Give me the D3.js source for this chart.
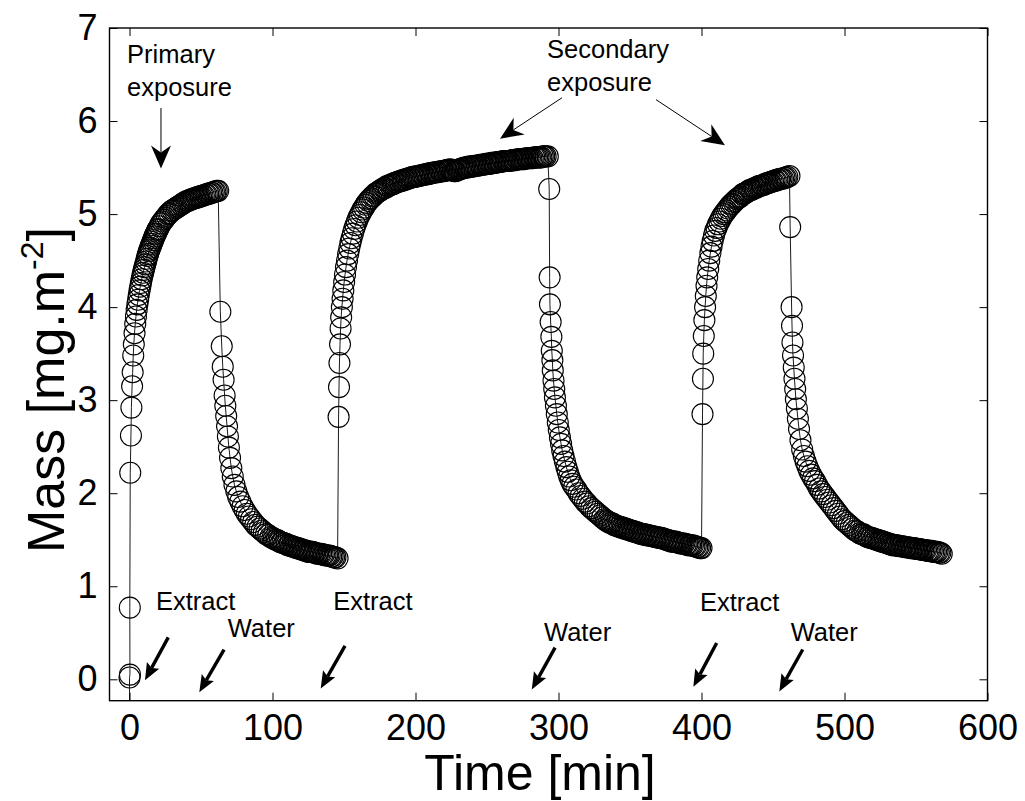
<!DOCTYPE html>
<html>
<head>
<meta charset="utf-8">
<script src="https://cdn.jsdelivr.net/npm/d3@7"></script>
<style>
  body { margin: 0; background: #fff; }
  text { font-family: "Liberation Sans", Arial, Helvetica, sans-serif; fill: #000; }
</style>
</head>
<body>
<svg id="chart" width="1025" height="801"></svg>
<script>
// [time (min), mass (mg.m^-2)] for each exposure / rinse phase
const primaryExtract = [[0,-0.5],[0,0.02],[0.3,0.05],[0.2,0.77],[0.5,2.22],[1.0,2.62],[1.3,2.92],[1.8,3.15],[2.2,3.30],[2.6,3.48],[3.0,3.60],[3.5,3.72],[4.0,3.82],[4.5,3.90],[5,3.97],[5.5,4.03],[6,4.08],[6.5,4.13],[7,4.18],[7.5,4.22],[8,4.26],[8.5,4.30],[9,4.34],[9.5,4.37],[10,4.40],[10.5,4.43],[11,4.46],[11.5,4.49],[12,4.52],[12.5,4.55],[13,4.57],[13.5,4.60],[14,4.62],[14.5,4.64],[15,4.66],[15.5,4.68],[16,4.70],[16.5,4.72],[17,4.74],[17.5,4.76],[18,4.78],[18.5,4.79],[19,4.81],[19.5,4.83],[20,4.84],[21,4.87],[22,4.90],[23,4.92],[24,4.94],[25,4.96],[26,4.98],[27,5.00],[28,5.01],[29,5.03],[30,5.04],[31,5.05],[32,5.06],[33,5.07],[34,5.08],[35,5.09],[36,5.10],[37,5.11],[38,5.12],[39,5.13],[40,5.14],[41,5.14],[42,5.15],[43,5.16],[44,5.16],[45,5.17],[46,5.17],[47,5.18],[48,5.18],[49,5.19],[50,5.19],[51,5.20],[52,5.20],[53,5.21],[54,5.21],[55,5.22],[56,5.22],[57,5.23],[58,5.23],[59,5.24],[60,5.24],[61,5.25],[62,5.25]];

const waterRinse1 = [[63.5,3.95],[64.5,3.58],[65.2,3.36],[65.8,3.22],[66.5,3.05],[67,2.94],[67.6,2.83],[68.2,2.72],[68.8,2.61],[69.5,2.49],[70.3,2.38],[71.2,2.27],[72.2,2.18],[73.4,2.09],[74.7,2.02],[76,1.96],[77.5,1.91],[79,1.86],[80.5,1.82],[82,1.78],[83.5,1.75],[85,1.72],[86.5,1.69],[88,1.66],[89.5,1.64],[91,1.62],[92.5,1.60],[94,1.58],[95.5,1.56],[97,1.55],[98.5,1.53],[100,1.52],[101,1.51],[102,1.50],[103,1.50],[104,1.49],[105,1.48],[106,1.47],[107,1.47],[108,1.46],[109,1.46],[110,1.45],[111,1.44],[112,1.44],[113,1.43],[114,1.43],[115,1.42],[116,1.42],[117,1.41],[118,1.41],[119,1.40],[120,1.40],[121,1.39],[122,1.39],[123,1.38],[124,1.38],[125,1.37],[126,1.37],[127,1.37],[128,1.37],[129,1.36],[130,1.36],[131,1.35],[132,1.35],[133,1.35],[134,1.35],[135,1.34],[136,1.34],[137,1.33],[138,1.33],[139,1.33],[140,1.33],[141,1.32],[142,1.32],[143,1.31],[144,1.31],[145.5,1.30]];

const secondaryExtract1 = [[146.2,2.82],[146.5,3.14],[146.8,3.40],[147.2,3.60],[147.6,3.77],[148,3.89],[148.5,4.00],[149,4.09],[149.5,4.18],[150.1,4.27],[150.7,4.35],[151.4,4.43],[152.1,4.50],[152.9,4.57],[153.7,4.63],[154.5,4.69],[155.3,4.74],[156.2,4.79],[157.1,4.84],[158,4.88],[159,4.92],[160,4.96],[161,4.99],[162,5.02],[163,5.05],[164,5.07],[165,5.10],[166,5.12],[167,5.14],[168,5.16],[169,5.17],[170,5.19],[171,5.20],[172,5.22],[173,5.23],[174,5.24],[175,5.25],[176,5.26],[177,5.27],[178,5.28],[179,5.28],[180,5.30],[181,5.30],[182,5.31],[183,5.32],[184,5.32],[185,5.33],[186,5.34],[187,5.34],[188,5.35],[189,5.35],[190,5.36],[191,5.36],[192,5.37],[193,5.37],[194,5.38],[195,5.38],[196,5.39],[197,5.39],[198,5.40],[199,5.40],[200,5.40],[201,5.41],[202,5.41],[203,5.41],[204,5.42],[205,5.42],[206,5.42],[207,5.43],[208,5.43],[209,5.43],[210,5.44],[211,5.44],[212,5.44],[213,5.45],[214,5.45],[215,5.45],[216,5.45],[217,5.46],[218,5.46],[219,5.46],[220,5.46],[221,5.47],[222,5.47],[223,5.48],[224,5.48],[225,5.48],[226,5.47],[227,5.46],[228,5.46],[229,5.47],[230,5.48],[231,5.48],[232,5.49],[233,5.49],[234,5.50],[235,5.50],[236,5.50],[237,5.51],[238,5.51],[239,5.51],[240,5.51],[241,5.52],[242,5.52],[243,5.52],[244,5.52],[245,5.53],[246,5.53],[247,5.53],[248,5.53],[249,5.54],[250,5.54],[251,5.54],[252,5.54],[253,5.55],[254,5.55],[255,5.55],[256,5.55],[257,5.56],[258,5.56],[259,5.56],[260,5.56],[261,5.57],[262,5.57],[263,5.57],[264,5.57],[265,5.57],[266,5.57],[267,5.58],[268,5.58],[269,5.58],[270,5.58],[271,5.59],[272,5.59],[273,5.59],[274,5.59],[275,5.59],[276,5.59],[277,5.60],[278,5.60],[279,5.60],[280,5.60],[281,5.60],[282,5.60],[283,5.61],[284,5.61],[285,5.61],[286,5.61],[287,5.61],[288,5.61],[289,5.62],[290,5.62],[291,5.62],[292.5,5.62]];

const waterRinse2 = [[293.5,5.27],[293.8,4.32],[294,4.03],[294.5,3.84],[295,3.68],[295.3,3.53],[295.7,3.43],[296,3.32],[296.5,3.21],[297,3.12],[297.5,3.03],[298.2,2.94],[298.8,2.85],[299.5,2.76],[300.2,2.68],[301,2.60],[301.8,2.53],[302.6,2.46],[303.5,2.40],[304.5,2.34],[305.5,2.28],[306.5,2.23],[307.5,2.18],[308.5,2.14],[309.7,2.10],[311,2.07],[312.5,2.04],[314,2.00],[315.5,1.97],[317,1.94],[318.5,1.91],[320,1.89],[321.5,1.86],[323,1.84],[324.5,1.82],[326,1.80],[327.5,1.78],[329,1.76],[330.5,1.74],[332,1.72],[333,1.71],[334,1.70],[335,1.69],[336,1.68],[337,1.68],[338,1.67],[339,1.66],[340,1.65],[341,1.65],[342,1.64],[343,1.64],[344,1.63],[345,1.63],[346,1.62],[347,1.62],[348,1.61],[349,1.61],[350,1.60],[351,1.60],[352,1.59],[353,1.59],[354,1.58],[355,1.58],[356,1.57],[357,1.57],[358,1.56],[359,1.56],[360,1.56],[361,1.55],[362,1.55],[363,1.55],[364,1.54],[365,1.54],[366,1.54],[367,1.53],[368,1.53],[369,1.53],[370,1.52],[371,1.52],[372,1.52],[373,1.51],[374,1.51],[375,1.50],[376,1.50],[377,1.49],[378,1.49],[379,1.48],[380,1.48],[381,1.48],[382,1.48],[383,1.47],[384,1.47],[385,1.46],[386,1.46],[387,1.46],[388,1.46],[389,1.45],[390,1.45],[391,1.44],[392,1.44],[393,1.44],[394,1.44],[395,1.43],[396,1.43],[397,1.42],[398,1.42],[399,1.41],[400,1.41]];

const secondaryExtract2 = [[400.7,2.85],[401,3.23],[401.2,3.50],[401.6,3.69],[402,3.86],[402.5,4.00],[403,4.12],[403.5,4.23],[404,4.32],[404.7,4.41],[405.4,4.50],[406.2,4.58],[407,4.65],[407.8,4.71],[408.7,4.77],[409.6,4.82],[410.5,4.85],[411.5,4.89],[412.5,4.92],[413.5,4.95],[414.5,4.98],[415.5,5.00],[416.5,5.02],[417.5,5.04],[418.5,5.06],[419.5,5.08],[420.5,5.10],[421.5,5.11],[422.5,5.13],[423.5,5.14],[424.5,5.16],[425.5,5.17],[426.5,5.18],[427.5,5.19],[428.5,5.21],[429.5,5.22],[430,5.22],[431,5.23],[432,5.24],[433,5.25],[434,5.26],[435,5.26],[436,5.27],[437,5.28],[438,5.28],[439,5.29],[440,5.30],[441,5.30],[442,5.31],[443,5.31],[444,5.32],[445,5.33],[446,5.33],[447,5.34],[448,5.34],[449,5.35],[450,5.35],[451,5.36],[452,5.36],[453,5.37],[454,5.37],[455,5.38],[456,5.38],[457,5.38],[458,5.39],[459,5.39],[460,5.40],[461.5,5.41]];

const waterRinse3 = [[462,4.86],[463,4.00],[463.3,3.80],[463.6,3.62],[464,3.48],[464.5,3.35],[465,3.23],[465.5,3.12],[466,3.01],[466.7,2.91],[467.4,2.80],[468.2,2.69],[469.2,2.57],[470.4,2.47],[471.6,2.40],[472.8,2.34],[474,2.29],[475.3,2.24],[476.6,2.20],[478,2.16],[479.4,2.13],[480.8,2.09],[482.2,2.05],[483.6,2.02],[485,1.99],[486.5,1.96],[488,1.93],[489.5,1.90],[491,1.87],[492.5,1.84],[494,1.81],[495.5,1.78],[497,1.75],[498.5,1.72],[500,1.70],[501.5,1.68],[503,1.66],[504.5,1.64],[506,1.62],[507.5,1.60],[509,1.59],[510.5,1.57],[512,1.56],[513,1.56],[514,1.55],[515,1.54],[516,1.53],[517,1.53],[518,1.52],[519,1.52],[520,1.51],[521,1.51],[522,1.50],[523,1.50],[524,1.49],[525,1.49],[526,1.48],[527,1.48],[528,1.47],[529,1.47],[530,1.46],[531,1.46],[532,1.45],[533,1.45],[534,1.44],[535,1.44],[536,1.44],[537,1.44],[538,1.43],[539,1.43],[540,1.43],[541,1.43],[542,1.42],[543,1.42],[544,1.42],[545,1.42],[546,1.41],[547,1.41],[548,1.41],[549,1.41],[550,1.40],[551,1.40],[552,1.40],[553,1.40],[554,1.39],[555,1.39],[556,1.39],[557,1.39],[558,1.38],[559,1.38],[560,1.38],[561,1.38],[562,1.37],[563,1.37],[564,1.37],[565,1.37],[566,1.36],[567,1.36],[568,1.35]];

const xTicks = [0, 100, 200, 300, 400, 500, 600];
const yTicks = [0, 1, 2, 3, 4, 5, 6, 7];

// labels + arrows, in data coordinates (time, mass)
const labels = [
  { text: "Primary", t: -1.7, m: 6.62 },
  { text: "exposure", t: -1.7, m: 6.27 },
  { text: "Secondary", t: 292, m: 6.68 },
  { text: "exposure", t: 292, m: 6.32 },
  { text: "Extract", t: 18.5, m: 0.74 },
  { text: "Water", t: 68.7, m: 0.46 },
  { text: "Extract", t: 142.5, m: 0.74 },
  { text: "Water", t: 289.9, m: 0.41 },
  { text: "Extract", t: 398.9, m: 0.73 },
  { text: "Water", t: 462.4, m: 0.41 }
];
const thinArrows = [
  { from: [22.0, 6.14], to: [22.0, 5.49] },
  { from: [302.4, 6.25], to: [259.1, 5.81] },
  { from: [368.2, 6.23], to: [416.4, 5.74] }
];
const boldArrows = [
  { from: [27.1, 0.45], to: [10.8, -0.01] },
  { from: [66.1, 0.32], to: [48.8, -0.14] },
  { from: [150.7, 0.36], to: [133.7, -0.10] },
  { from: [297.6, 0.34], to: [281.3, -0.11] },
  { from: [410.6, 0.39], to: [394.3, -0.08] },
  { from: [470.8, 0.32], to: [454.4, -0.13] }
];

const svg = d3.select("#chart");
const plotLeft = 109.5, plotRight = 987.5, plotTop = 28, plotBottom = 700.7;

const x = d3.scaleLinear().domain([-14, 600]).range([plotLeft, plotRight]);
const y = d3.scaleLinear().domain([-0.23, 7]).range([plotBottom, plotTop]);

svg.append("defs").append("clipPath").attr("id", "plotArea")
  .append("rect")
  .attr("x", plotLeft).attr("y", plotTop)
  .attr("width", plotRight - plotLeft).attr("height", plotBottom - plotTop);

// axes, ticks pointing inwards on all four sides
const gx = svg.append("g").attr("transform", `translate(0,${plotBottom})`)
  .call(d3.axisBottom(x).tickValues(xTicks).tickSizeInner(-8).tickSizeOuter(0).tickPadding(14));
const gy = svg.append("g").attr("transform", `translate(${plotLeft},0)`)
  .call(d3.axisLeft(y).tickValues(yTicks).tickSizeInner(-8).tickSizeOuter(0).tickPadding(12));
const gt = svg.append("g").attr("transform", `translate(0,${plotTop})`)
  .call(d3.axisTop(x).tickValues(xTicks).tickSizeInner(-8).tickSizeOuter(0).tickFormat(""));
const gr = svg.append("g").attr("transform", `translate(${plotRight},0)`)
  .call(d3.axisRight(y).tickValues(yTicks).tickSizeInner(-8).tickSizeOuter(0).tickFormat(""));

[gx, gy, gt, gr].forEach(g => {
  g.select(".domain").remove();
  g.selectAll(".tick line").attr("stroke", "#000").attr("stroke-width", 1);
  g.selectAll(".tick text").attr("font-size", 36).attr("font-family", null);
});

svg.append("rect")
  .attr("x", plotLeft).attr("y", plotTop)
  .attr("width", plotRight - plotLeft).attr("height", plotBottom - plotTop)
  .attr("fill", "none").attr("stroke", "#000").attr("stroke-width", 1.4);

// data: connecting line + open circle markers
const allPoints = [].concat(primaryExtract, waterRinse1, secondaryExtract1,
                            waterRinse2, secondaryExtract2, waterRinse3);

const plot = svg.append("g").attr("clip-path", "url(#plotArea)");

plot.append("path")
  .datum(allPoints)
  .attr("fill", "none")
  .attr("stroke", "#000")
  .attr("stroke-width", 0.9)
  .attr("d", d3.line().x(d => x(d[0])).y(d => y(d[1])));

plot.selectAll("circle")
  .data(allPoints)
  .enter()
  .append("circle")
  .attr("cx", d => x(d[0]))
  .attr("cy", d => y(d[1]))
  .attr("r", 10.5)
  .attr("fill", "none")
  .attr("stroke", "#000")
  .attr("stroke-width", 1.1);

// annotations
function drawArrow(a, opts) {
  const x1 = x(a.from[0]), y1 = y(a.from[1]);
  const x2 = x(a.to[0]), y2 = y(a.to[1]);
  const len = Math.hypot(x2 - x1, y2 - y1);
  const ux = (x2 - x1) / len, uy = (y2 - y1) / len;
  const nx = -uy, ny = ux;
  const bx = x2 - ux * opts.head, by = y2 - uy * opts.head;
  const kx = x2 - ux * (opts.head - opts.notch), ky = y2 - uy * (opts.head - opts.notch);
  svg.append("line")
    .attr("x1", x1).attr("y1", y1).attr("x2", kx).attr("y2", ky)
    .attr("stroke", "#000").attr("stroke-width", opts.width);
  svg.append("path")
    .attr("d", `M${x2},${y2}L${bx + nx * opts.half},${by + ny * opts.half}L${kx},${ky}L${bx - nx * opts.half},${by - ny * opts.half}Z`)
    .attr("fill", "#000");
}

thinArrows.forEach(a => drawArrow(a, { width: 1, head: 23, half: 10, notch: 7 }));
boldArrows.forEach(a => drawArrow(a, { width: 3.4, head: 17, half: 7, notch: 3 }));

svg.selectAll("text.note")
  .data(labels)
  .enter()
  .append("text")
  .attr("class", "note")
  .attr("x", d => x(d.t))
  .attr("y", d => y(d.m))
  .attr("font-size", 25.5)
  .text(d => d.text);

// axis titles
svg.append("text")
  .attr("x", 540).attr("y", 790)
  .attr("text-anchor", "middle")
  .attr("font-size", 50)
  .text("Time [min]");

const yTitle = svg.append("text")
  .attr("transform", "translate(64,390) rotate(-90)")
  .attr("text-anchor", "middle")
  .attr("font-size", 52);
yTitle.append("tspan").text("Mass [mg.m");
yTitle.append("tspan").attr("font-size", 32).attr("dy", -21).text("-2");
yTitle.append("tspan").attr("dy", 21).text("]");
</script>
</body>
</html>
